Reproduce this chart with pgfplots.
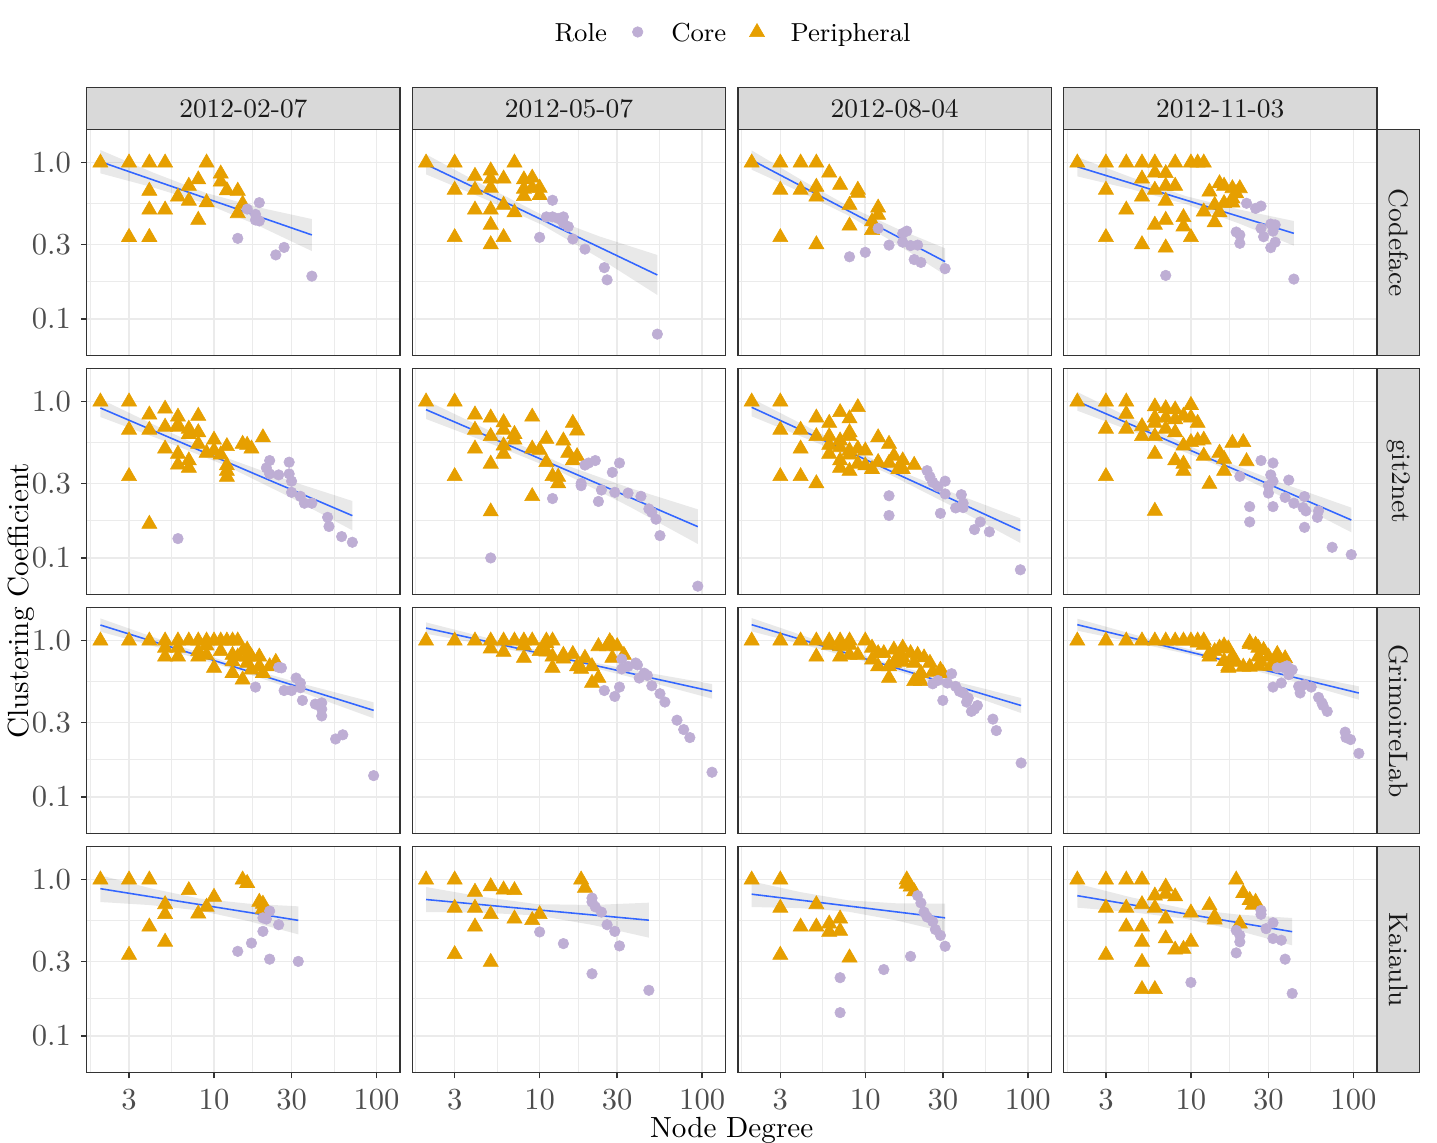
\documentclass[border=0pt]{standalone}
\usepackage{pgfplots}
\pgfplotsset{compat=1.18}
\definecolor{corecol}{HTML}{BEAED4}
\definecolor{pericol}{HTML}{E69F00}
\definecolor{fitcol}{HTML}{3366FF}
\definecolor{gridcol}{HTML}{EBEBEB}
\definecolor{bordercol}{HTML}{333333}
\definecolor{stripcol}{HTML}{D9D9D9}
\definecolor{striptext}{HTML}{1A1A1A}
\definecolor{labcol}{HTML}{4D4D4D}
\pgfplotsset{
  ptcore/.style={only marks, mark=*, mark size=1.85pt, color=corecol, mark options={line width=0.2pt}, forget plot},
  ptperi/.style={only marks, mark=triangle*, mark size=3.05pt, color=pericol, mark options={line width=0.2pt}, forget plot},
  fitline/.style={color=fitcol, line width=0.55pt, no marks, forget plot},
  seband/.style={draw=none, fill=black, fill opacity=0.085, no marks, forget plot},
}
\begin{document}
\begin{tikzpicture}
\path[use as bounding box] (0,0) rectangle (502.95pt,399.7pt);

% ---------------- Legend (own axis in pixel units) ----------------
\begin{axis}[at={(0pt,0pt)}, anchor=south west, scale only axis, width=502.95pt, height=399.7pt,
  xmin=0, xmax=1437, ymin=0, ymax=1142, hide axis, clip=false]
\addplot[ptcore] coordinates {(637.7,1110)};
\addplot[ptperi] coordinates {(757,1109.7)};
\node[anchor=base west, inner sep=0pt, font=\fontsize{9.1}{11}\selectfont] at (axis cs:554,1100.3) {Role};
\node[anchor=base west, inner sep=0pt, font=\fontsize{9.1}{11}\selectfont] at (axis cs:670.7,1100.3) {Core};
\node[anchor=base west, inner sep=0pt, font=\fontsize{9.1}{11}\selectfont] at (axis cs:790,1100.3) {Peripheral};
\end{axis}

% ---------------- Row 1: Codeface ----------------
\begin{axis}[at={(30.35pt,275.2pt)}, anchor=south west, scale only axis, width=109.66pt, height=79.1pt,
  xmode=log, ymode=log, xmin=1.647, xmax=139.5, ymin=0.0582, ymax=1.626,
  xtick={3,10,30,100}, ytick={0.1,0.3,1}, minor xtick={1.732,5.477,17.32,54.77}, minor ytick={0.1732,0.5477},
  grid=both, major grid style={draw=gridcol, line width=0.55pt}, minor grid style={draw=gridcol, line width=0.35pt},
  axis line style={draw=bordercol, line width=0.5pt}, tick align=outside, major tick length=2pt, minor tick length=0pt,
  xtick pos=bottom, ytick pos=left, ticklabel style={font=\fontsize{10.7}{12.8}\selectfont, text=labcol},
  xticklabels={}, xtick style={draw=none}, yticklabels={0.1,0.3,1.0}, ytick style={draw=bordercol, line width=0.5pt}]
\addplot[seband] coordinates {(2,1.205) (4.23,0.864) (8.94,0.640) (18.91,0.517) (40,0.436) (40,0.272) (18.91,0.394) (8.94,0.547) (4.23,0.694) (2,0.855)};
\addplot[ptperi] coordinates {(2,1) (3,1) (4,1) (5,1) (9,1) (11,0.85) (11,0.755) (8,0.78) (7,0.71) (4,0.66) (6,0.606) (7,0.57) (9,0.557) (12,0.665) (14,0.66) (15,0.545) (14,0.474) (4,0.5) (5,0.5) (8,0.43) (3,0.334) (4,0.334)};
\addplot[ptcore] coordinates {(19,0.555) (16,0.505) (18,0.467) (19,0.424) (18,0.43) (14,0.328) (27,0.287) (24,0.257) (40,0.188)};
\addplot[fitline] coordinates {(2,1.015) (40,0.345)};
\end{axis}

\begin{axis}[at={(144.32pt,275.2pt)}, anchor=south west, scale only axis, width=109.66pt, height=79.1pt,
  xmode=log, ymode=log, xmin=1.647, xmax=139.5, ymin=0.0582, ymax=1.626,
  xtick={3,10,30,100}, ytick={0.1,0.3,1}, minor xtick={1.732,5.477,17.32,54.77}, minor ytick={0.1732,0.5477},
  grid=both, major grid style={draw=gridcol, line width=0.55pt}, minor grid style={draw=gridcol, line width=0.35pt},
  axis line style={draw=bordercol, line width=0.5pt}, tick align=outside, major tick length=2pt, minor tick length=0pt,
  xtick pos=bottom, ytick pos=left, ticklabel style={font=\fontsize{10.7}{12.8}\selectfont, text=labcol},
  xticklabels={}, xtick style={draw=none}, yticklabels={}, ytick style={draw=none}]
\addplot[seband] coordinates {(2,1.131) (4.54,0.7155) (10.30,0.4649) (23.36,0.3374) (53,0.2567) (53,0.1424) (23.36,0.2447) (10.30,0.4012) (4.54,0.5890) (2,0.8421)};
\addplot[ptperi] coordinates {(2,1) (3,1) (7,1) (4,0.822) (5,0.89) (5,0.79) (5,0.69) (6,0.79) (8,0.78) (9,0.80) (9,0.69) (10,0.69) (8,0.68) (8,0.61) (10,0.62) (3,0.67) (4,0.67) (4,0.5) (5,0.5) (6,0.536) (7,0.48) (5,0.40) (3,0.333) (6,0.333) (5,0.30)};
\addplot[ptcore] coordinates {(12,0.575) (11,0.45) (12,0.45) (13,0.44) (14,0.45) (14,0.41) (15,0.39) (16,0.325) (10,0.333) (19,0.28) (25,0.213) (26,0.178) (53,0.08)};
\addplot[fitline] coordinates {(2,0.9757) (53,0.1912)};
\end{axis}

\begin{axis}[at={(258.29pt,275.2pt)}, anchor=south west, scale only axis, width=109.66pt, height=79.1pt,
  xmode=log, ymode=log, xmin=1.647, xmax=139.5, ymin=0.0582, ymax=1.626,
  xtick={3,10,30,100}, ytick={0.1,0.3,1}, minor xtick={1.732,5.477,17.32,54.77}, minor ytick={0.1732,0.5477},
  grid=both, major grid style={draw=gridcol, line width=0.55pt}, minor grid style={draw=gridcol, line width=0.35pt},
  axis line style={draw=bordercol, line width=0.5pt}, tick align=outside, major tick length=2pt, minor tick length=0pt,
  xtick pos=bottom, ytick pos=left, ticklabel style={font=\fontsize{10.7}{12.8}\selectfont, text=labcol},
  xticklabels={}, xtick style={draw=none}, yticklabels={}, ytick style={draw=none}]
\addplot[seband] coordinates {(2,1.199) (3.97,0.7848) (7.87,0.5269) (15.62,0.3795) (31,0.2831) (31,0.1912) (15.62,0.3016) (7.87,0.4592) (3.97,0.6519) (2,0.902)};
\addplot[ptperi] coordinates {(2,1) (3,1) (4,1) (5,1) (6,0.863) (7,0.72) (9,0.67) (9,0.64) (5,0.70) (5,0.606) (3,0.67) (4,0.67) (8,0.536) (12,0.515) (12,0.463) (11,0.42) (11,0.37) (8,0.395) (3,0.333) (5,0.30)};
\addplot[ptcore] coordinates {(12,0.38) (18,0.365) (17,0.353) (17,0.31) (19,0.295) (21,0.297) (14,0.297) (10,0.267) (8,0.25) (20,0.24) (22,0.23) (31,0.21)};
\addplot[fitline] coordinates {(2,1.040) (31,0.2327)};
\end{axis}

\begin{axis}[at={(372.26pt,275.2pt)}, anchor=south west, scale only axis, width=109.66pt, height=79.1pt,
  xmode=log, ymode=log, xmin=1.647, xmax=139.5, ymin=0.0582, ymax=1.626,
  xtick={3,10,30,100}, ytick={0.1,0.3,1}, minor xtick={1.732,5.477,17.32,54.77}, minor ytick={0.1732,0.5477},
  grid=both, major grid style={draw=gridcol, line width=0.55pt}, minor grid style={draw=gridcol, line width=0.35pt},
  axis line style={draw=bordercol, line width=0.5pt}, tick align=outside, major tick length=2pt, minor tick length=0pt,
  xtick pos=bottom, ytick pos=left, ticklabel style={font=\fontsize{10.7}{12.8}\selectfont, text=labcol},
  xticklabels={}, xtick style={draw=none}, yticklabels={}, ytick style={draw=none}]
\addplot[seband] coordinates {(2,1.087) (4.31,0.805) (9.27,0.612) (19.97,0.501) (43,0.4235) (43,0.2945) (19.97,0.4068) (9.27,0.544) (4.31,0.6759) (2,0.8177)};
\addplot[ptperi] coordinates {(2,1) (3,1) (4,1) (5,1) (6,1) (8,1) (10,1) (11,1) (12,1) (6,0.863) (7,0.855) (5,0.79) (7,0.71) (8,0.71) (6,0.67) (3,0.67) (5,0.606) (7,0.57) (4,0.5) (6,0.4) (7,0.43) (9,0.447) (9,0.39) (10,0.333) (3,0.333) (5,0.30) (7,0.286) (13,0.652) (15,0.737) (16,0.71) (18,0.685) (20,0.685) (19,0.636) (18,0.59) (14,0.536) (16,0.55) (18,0.555) (12,0.486) (15,0.48) (14,0.415)};
\addplot[ptcore] coordinates {(22,0.55) (25,0.51) (27,0.528) (31,0.405) (33,0.40) (27,0.38) (32,0.365) (28,0.336) (19,0.36) (20,0.345) (20,0.305) (33,0.31) (31,0.286) (7,0.19) (43,0.18)};
\addplot[fitline] coordinates {(2,0.9428) (43,0.3532)};
\end{axis}

% ---------------- Row 2: git2net ----------------
\begin{axis}[at={(30.35pt,191.56pt)}, anchor=south west, scale only axis, width=109.66pt, height=79.1pt,
  xmode=log, ymode=log, xmin=1.647, xmax=139.5, ymin=0.0582, ymax=1.626,
  xtick={3,10,30,100}, ytick={0.1,0.3,1}, minor xtick={1.732,5.477,17.32,54.77}, minor ytick={0.1732,0.5477},
  grid=both, major grid style={draw=gridcol, line width=0.55pt}, minor grid style={draw=gridcol, line width=0.35pt},
  axis line style={draw=bordercol, line width=0.5pt}, tick align=outside, major tick length=2pt, minor tick length=0pt,
  xtick pos=bottom, ytick pos=left, ticklabel style={font=\fontsize{10.7}{12.8}\selectfont, text=labcol},
  xticklabels={}, xtick style={draw=none}, yticklabels={0.1,0.3,1.0}, ytick style={draw=bordercol, line width=0.5pt}]
\addplot[seband] coordinates {(2,1.040) (4.88,0.6661) (11.92,0.4372) (29.09,0.3124) (71,0.2315) (71,0.1503) (29.09,0.2462) (11.92,0.3886) (4.88,0.5637) (2,0.7979)};
\addplot[ptperi] coordinates {(2,1) (3,1) (5,0.90) (4,0.826) (6,0.80) (8,0.81) (6,0.71) (5,0.69) (3,0.66) (4,0.66) (7,0.67) (7,0.62) (8,0.636) (6,0.69) (10,0.57) (8,0.536) (5,0.50) (6,0.463) (7,0.42) (6,0.395) (7,0.377) (9,0.47) (10,0.486) (11,0.458) (12,0.518) (12,0.39) (12,0.36) (12,0.33) (15,0.536) (16,0.528) (17,0.50) (20,0.59) (3,0.333) (4,0.165)};
\addplot[ptcore] coordinates {(6,0.133) (22,0.42) (21,0.377) (22,0.345) (25,0.34) (29,0.41) (29,0.345) (30,0.31) (30,0.263) (34,0.248) (36,0.224) (40,0.224) (50,0.182) (51,0.159) (61,0.137) (71,0.126)};
\addplot[fitline] coordinates {(2,0.911) (71,0.1866)};
\end{axis}

\begin{axis}[at={(144.32pt,191.56pt)}, anchor=south west, scale only axis, width=109.66pt, height=79.1pt,
  xmode=log, ymode=log, xmin=1.647, xmax=139.5, ymin=0.0582, ymax=1.626,
  xtick={3,10,30,100}, ytick={0.1,0.3,1}, minor xtick={1.732,5.477,17.32,54.77}, minor ytick={0.1732,0.5477},
  grid=both, major grid style={draw=gridcol, line width=0.55pt}, minor grid style={draw=gridcol, line width=0.35pt},
  axis line style={draw=bordercol, line width=0.5pt}, tick align=outside, major tick length=2pt, minor tick length=0pt,
  xtick pos=bottom, ytick pos=left, ticklabel style={font=\fontsize{10.7}{12.8}\selectfont, text=labcol},
  xticklabels={}, xtick style={draw=none}, yticklabels={}, ytick style={draw=none}]
\addplot[seband] coordinates {(2,1.020) (5.24,0.6311) (13.71,0.4003) (35.90,0.2805) (94,0.2048) (94,0.1229) (35.90,0.2124) (13.71,0.3523) (5.24,0.5289) (2,0.7747)};
\addplot[ptperi] coordinates {(2,1) (3,1) (4,0.826) (5,0.79) (9,0.80) (6,0.737) (6,0.66) (4,0.66) (5,0.60) (7,0.62) (7,0.57) (6,0.523) (6,0.463) (4,0.50) (5,0.40) (3,0.333) (9,0.50) (10,0.49) (11,0.577) (14,0.563) (16,0.73) (17,0.652) (15,0.47) (17,0.447) (16,0.42) (11,0.41) (12,0.333) (13,0.33) (13,0.30) (9,0.248) (5,0.198)};
\addplot[ptcore] coordinates {(5,0.10) (12,0.24) (18,0.30) (18,0.29) (19,0.393) (20,0.405) (22,0.42) (23,0.23) (24,0.272) (28,0.353) (31,0.405) (29,0.263) (35,0.26) (42,0.248) (47,0.206) (49,0.196) (52,0.177) (55,0.139) (94,0.066)};
\addplot[fitline] coordinates {(2,0.8889) (94,0.1586)};
\end{axis}

\begin{axis}[at={(258.29pt,191.56pt)}, anchor=south west, scale only axis, width=109.66pt, height=79.1pt,
  xmode=log, ymode=log, xmin=1.647, xmax=139.5, ymin=0.0582, ymax=1.626,
  xtick={3,10,30,100}, ytick={0.1,0.3,1}, minor xtick={1.732,5.477,17.32,54.77}, minor ytick={0.1732,0.5477},
  grid=both, major grid style={draw=gridcol, line width=0.55pt}, minor grid style={draw=gridcol, line width=0.35pt},
  axis line style={draw=bordercol, line width=0.5pt}, tick align=outside, major tick length=2pt, minor tick length=0pt,
  xtick pos=bottom, ytick pos=left, ticklabel style={font=\fontsize{10.7}{12.8}\selectfont, text=labcol},
  xticklabels={}, xtick style={draw=none}, yticklabels={}, ytick style={draw=none}]
\addplot[seband] coordinates {(2,1.050) (5.18,0.6335) (13.42,0.3915) (34.74,0.2608) (90,0.1793) (90,0.1247) (34.74,0.2127) (13.42,0.3514) (5.18,0.5387) (2,0.8057)};
\addplot[ptperi] coordinates {(2,1) (3,1) (3,0.66) (4,0.66) (4,0.5) (3,0.333) (4,0.333) (5,0.79) (5,0.60) (5,0.30) (6,0.73) (6,0.60) (6,0.528) (6,0.463) (7,0.855) (7,0.563) (7,0.51) (7,0.42) (7,0.377) (8,0.78) (8,0.636) (8,0.60) (8,0.486) (8,0.458) (8,0.36) (9,0.92) (9,0.50) (9,0.40) (10,0.486) (10,0.39) (11,0.37) (12,0.59) (12,0.41) (14,0.536) (14,0.405) (15,0.45) (16,0.37) (17,0.42) (17,0.37) (20,0.393)};
\addplot[ptcore] coordinates {(24,0.362) (25,0.331) (26,0.305) (28,0.286) (31,0.31) (31,0.257) (39,0.254) (40,0.224) (36,0.209) (40,0.21) (29,0.193) (14,0.25) (14,0.187) (51,0.17) (47,0.152) (58,0.147) (90,0.084)};
\addplot[fitline] coordinates {(2,0.920) (90,0.1496)};
\end{axis}

\begin{axis}[at={(372.26pt,191.56pt)}, anchor=south west, scale only axis, width=109.66pt, height=79.1pt,
  xmode=log, ymode=log, xmin=1.647, xmax=139.5, ymin=0.0582, ymax=1.626,
  xtick={3,10,30,100}, ytick={0.1,0.3,1}, minor xtick={1.732,5.477,17.32,54.77}, minor ytick={0.1732,0.5477},
  grid=both, major grid style={draw=gridcol, line width=0.55pt}, minor grid style={draw=gridcol, line width=0.35pt},
  axis line style={draw=bordercol, line width=0.5pt}, tick align=outside, major tick length=2pt, minor tick length=0pt,
  xtick pos=bottom, ytick pos=left, ticklabel style={font=\fontsize{10.7}{12.8}\selectfont, text=labcol},
  xticklabels={}, xtick style={draw=none}, yticklabels={}, ytick style={draw=none}]
\addplot[seband] coordinates {(2,1.153) (5.28,0.704) (13.93,0.4405) (36.76,0.2995) (97,0.2099) (97,0.146) (36.76,0.2451) (13.93,0.3993) (5.28,0.5986) (2,0.8758)};
\addplot[ptperi] coordinates {(2,1) (3,1) (4,1) (4,0.835) (4,0.67) (3,0.67) (3,0.333) (5,0.695) (5,0.60) (6,0.93) (6,0.79) (6,0.73) (6,0.60) (6,0.463) (6,0.20) (7,0.905) (7,0.79) (7,0.67) (8,0.89) (8,0.77) (8,0.636) (8,0.42) (9,0.81) (9,0.523) (9,0.40) (9,0.36) (10,0.95) (10,0.79) (10,0.55) (11,0.73) (11,0.563) (12,0.57) (12,0.45) (13,0.297) (15,0.47) (16,0.43) (16,0.36) (18,0.544) (21,0.55) (22,0.415)};
\addplot[ptcore] coordinates {(27,0.42) (32,0.405) (20,0.333) (31,0.34) (32,0.31) (30,0.29) (30,0.26) (40,0.315) (38,0.244) (43,0.224) (50,0.247) (49,0.21) (51,0.20) (61,0.20) (60,0.182) (50,0.157) (32,0.213) (23,0.213) (23,0.17) (74,0.117) (97,0.105)};
\addplot[fitline] coordinates {(2,1.005) (97,0.175)};
\end{axis}

% ---------------- Row 3: GrimoireLab ----------------
\begin{axis}[at={(30.35pt,107.9pt)}, anchor=south west, scale only axis, width=109.66pt, height=79.1pt,
  xmode=log, ymode=log, xmin=1.647, xmax=139.5, ymin=0.0582, ymax=1.626,
  xtick={3,10,30,100}, ytick={0.1,0.3,1}, minor xtick={1.732,5.477,17.32,54.77}, minor ytick={0.1732,0.5477},
  grid=both, major grid style={draw=gridcol, line width=0.55pt}, minor grid style={draw=gridcol, line width=0.35pt},
  axis line style={draw=bordercol, line width=0.5pt}, tick align=outside, major tick length=2pt, minor tick length=0pt,
  xtick pos=bottom, ytick pos=left, ticklabel style={font=\fontsize{10.7}{12.8}\selectfont, text=labcol},
  xticklabels={}, xtick style={draw=none}, yticklabels={0.1,0.3,1.0}, ytick style={draw=bordercol, line width=0.5pt}]
\addplot[seband] coordinates {(2,1.389) (5.26,0.974) (13.86,0.6954) (36.48,0.5241) (96,0.4032) (96,0.3186) (36.48,0.4595) (13.86,0.6492) (5.26,0.8686) (2,1.142)};
\addplot[ptperi] coordinates {(2,1) (3,1) (4,1) (5,1) (6,1) (7,1) (8,1) (9,1) (10,1) (11,1) (12,1) (13,1) (14,1) (5,0.90) (5,0.79) (6,0.90) (6,0.79) (8,0.855) (8,0.79) (9,0.81) (9,0.93) (10,0.67) (11,0.855) (13,0.81) (13,0.737) (13,0.62) (14,0.79) (15,0.855) (15,0.563) (16,0.875) (16,0.79) (16,0.72) (17,0.652) (17,0.79) (19,0.79) (19,0.685) (20,0.62) (24,0.73) (22,0.685)};
\addplot[ptcore] coordinates {(18,0.505) (25,0.675) (26,0.67) (32,0.577) (34,0.536) (34,0.50) (27,0.48) (30,0.48) (35,0.415) (42,0.393) (46,0.40) (46,0.365) (46,0.33) (56,0.235) (62,0.25) (96,0.137)};
\addplot[fitline] coordinates {(2,1.26) (96,0.3584)};
\end{axis}

\begin{axis}[at={(144.32pt,107.9pt)}, anchor=south west, scale only axis, width=109.66pt, height=79.1pt,
  xmode=log, ymode=log, xmin=1.647, xmax=139.5, ymin=0.0582, ymax=1.626,
  xtick={3,10,30,100}, ytick={0.1,0.3,1}, minor xtick={1.732,5.477,17.32,54.77}, minor ytick={0.1732,0.5477},
  grid=both, major grid style={draw=gridcol, line width=0.55pt}, minor grid style={draw=gridcol, line width=0.35pt},
  axis line style={draw=bordercol, line width=0.5pt}, tick align=outside, major tick length=2pt, minor tick length=0pt,
  xtick pos=bottom, ytick pos=left, ticklabel style={font=\fontsize{10.7}{12.8}\selectfont, text=labcol},
  xticklabels={}, xtick style={draw=none}, yticklabels={}, ytick style={draw=none}]
\addplot[seband] coordinates {(2,1.310) (5.51,1.002) (15.17,0.7786) (41.76,0.6356) (115,0.5282) (115,0.4256) (41.76,0.5638) (15.17,0.734) (5.51,0.9089) (2,1.109)};
\addplot[ptperi] coordinates {(2,1) (3,1) (4,1) (5,1) (6,1) (7,1) (8,1) (9,1) (11,1) (12,1) (5,0.89) (6,0.846) (8,0.93) (8,0.775) (10,0.855) (11,0.85) (11,0.96) (12,0.79) (12,0.67) (14,0.81) (14,0.767) (16,0.82) (17,0.685) (18,0.66) (19,0.775) (21,0.685) (23,0.577) (21,0.536) (23,0.92) (27,0.99) (26,0.92) (28,0.94) (30,0.92) (28,0.775) (33,0.81)};
\addplot[ptcore] coordinates {(32,0.763) (32,0.66) (35,0.685) (39,0.72) (40,0.70) (41,0.577) (44,0.62) (46,0.60) (49,0.515) (55,0.458) (59,0.405) (25,0.48) (29,0.44) (31,0.505) (70,0.31) (77,0.27) (84,0.24) (115,0.144)};
\addplot[fitline] coordinates {(2,1.205) (115,0.4742)};
\end{axis}

\begin{axis}[at={(258.29pt,107.9pt)}, anchor=south west, scale only axis, width=109.66pt, height=79.1pt,
  xmode=log, ymode=log, xmin=1.647, xmax=139.5, ymin=0.0582, ymax=1.626,
  xtick={3,10,30,100}, ytick={0.1,0.3,1}, minor xtick={1.732,5.477,17.32,54.77}, minor ytick={0.1732,0.5477},
  grid=both, major grid style={draw=gridcol, line width=0.55pt}, minor grid style={draw=gridcol, line width=0.35pt},
  axis line style={draw=bordercol, line width=0.5pt}, tick align=outside, major tick length=2pt, minor tick length=0pt,
  xtick pos=bottom, ytick pos=left, ticklabel style={font=\fontsize{10.7}{12.8}\selectfont, text=labcol},
  xticklabels={}, xtick style={draw=none}, yticklabels={}, ytick style={draw=none}]
\addplot[seband] coordinates {(2,1.396) (5.19,0.9956) (13.49,0.7223) (35.04,0.5518) (91,0.4298) (91,0.3446) (35.04,0.4866) (13.49,0.6744) (5.19,0.8875) (2,1.147)};
\addplot[ptperi] coordinates {(2,1) (3,1) (4,1) (5,1) (6,1) (7,1) (8,1) (10,1) (5,0.79) (6,0.94) (7,0.92) (7,0.79) (8,0.94) (8,0.81) (9,0.81) (11,0.90) (11,0.755) (12,0.83) (12,0.685) (13,0.83) (14,0.577) (14,0.685) (15,0.875) (15,0.72) (16,0.80) (17,0.90) (17,0.78) (17,0.73) (19,0.83) (20,0.72) (20,0.55) (21,0.81) (22,0.62) (22,0.55) (23,0.78) (25,0.72) (26,0.63) (29,0.65) (30,0.62)};
\addplot[ptcore] coordinates {(26,0.53) (28,0.557) (32,0.536) (34,0.615) (36,0.51) (38,0.474) (40,0.463) (43,0.43) (42,0.405) (49,0.385) (47,0.365) (45,0.353) (30,0.415) (61,0.315) (64,0.266) (91,0.165)};
\addplot[fitline] coordinates {(2,1.266) (91,0.3848)};
\end{axis}

\begin{axis}[at={(372.26pt,107.9pt)}, anchor=south west, scale only axis, width=109.66pt, height=79.1pt,
  xmode=log, ymode=log, xmin=1.647, xmax=139.5, ymin=0.0582, ymax=1.626,
  xtick={3,10,30,100}, ytick={0.1,0.3,1}, minor xtick={1.732,5.477,17.32,54.77}, minor ytick={0.1732,0.5477},
  grid=both, major grid style={draw=gridcol, line width=0.55pt}, minor grid style={draw=gridcol, line width=0.35pt},
  axis line style={draw=bordercol, line width=0.5pt}, tick align=outside, major tick length=2pt, minor tick length=0pt,
  xtick pos=bottom, ytick pos=left, ticklabel style={font=\fontsize{10.7}{12.8}\selectfont, text=labcol},
  xticklabels={}, xtick style={draw=none}, yticklabels={}, ytick style={draw=none}]
\addplot[seband] coordinates {(2,1.383) (5.42,1.036) (14.70,0.7881) (39.84,0.629) (108,0.5104) (108,0.4194) (39.84,0.5629) (14.70,0.743) (5.42,0.9352) (2,1.159)};
\addplot[ptperi] coordinates {(2,1) (3,1) (4,1) (5,1) (6,1) (7,1) (8,1) (9,1) (10,1) (11,1) (12,1) (11,0.97) (12,0.94) (13,0.83) (13,0.79) (14,0.855) (15,0.90) (16,0.93) (17,0.89) (16,0.74) (17,0.685) (17,0.67) (18,0.79) (19,0.73) (23,0.975) (23,0.95) (25,0.94) (26,0.90) (28,0.87) (26,0.79) (21,0.68) (23,0.68) (26,0.69) (27,0.73) (30,0.79) (34,0.82) (31,0.69) (38,0.77) (34,0.72)};
\addplot[ptcore] coordinates {(34,0.67) (37,0.675) (39,0.69) (42,0.652) (40,0.606) (36,0.536) (32,0.505) (46,0.51) (50,0.523) (55,0.505) (47,0.463) (61,0.434) (64,0.40) (65,0.385) (69,0.353) (89,0.26) (90,0.24) (96,0.233) (108,0.19)};
\addplot[fitline] coordinates {(2,1.266) (108,0.4627)};
\end{axis}

% ---------------- Row 4: Kaiaulu ----------------
\begin{axis}[at={(30.35pt,24.26pt)}, anchor=south west, scale only axis, width=109.66pt, height=79.1pt,
  xmode=log, ymode=log, xmin=1.647, xmax=139.5, ymin=0.0582, ymax=1.626,
  xtick={3,10,30,100}, ytick={0.1,0.3,1}, minor xtick={1.732,5.477,17.32,54.77}, minor ytick={0.1732,0.5477},
  grid=both, major grid style={draw=gridcol, line width=0.55pt}, minor grid style={draw=gridcol, line width=0.35pt},
  axis line style={draw=bordercol, line width=0.5pt}, tick align=outside, major tick length=2pt, minor tick length=0pt,
  xtick pos=bottom, ytick pos=left, ticklabel style={font=\fontsize{10.7}{12.8}\selectfont, text=labcol},
  xticklabel style={inner sep=0pt, yshift=-3.6pt},
  xticklabels={3,10,30,100}, xtick style={draw=bordercol, line width=0.5pt}, yticklabels={0.1,0.3,1.0}, ytick style={draw=bordercol, line width=0.5pt}]
\addplot[seband] coordinates {(2,1.066) (4.03,0.8830) (8.12,0.7577) (16.37,0.7021) (33,0.6752) (33,0.447) (16.37,0.5428) (8.12,0.635) (4.03,0.688) (2,0.7197)};
\addplot[ptperi] coordinates {(2,1) (3,1) (4,1) (7,0.855) (10,0.775) (15,1) (16,0.95) (5,0.695) (5,0.60) (4,0.50) (5,0.40) (3,0.33) (8,0.606) (9,0.67) (19,0.72) (20,0.70) (20,0.65)};
\addplot[ptcore] coordinates {(22,0.63) (20,0.57) (21,0.56) (25,0.515) (20,0.467) (17,0.393) (14,0.348) (22,0.31) (33,0.30)};
\addplot[fitline] coordinates {(2,0.8758) (33,0.5494)};
\end{axis}

\begin{axis}[at={(144.32pt,24.26pt)}, anchor=south west, scale only axis, width=109.66pt, height=79.1pt,
  xmode=log, ymode=log, xmin=1.647, xmax=139.5, ymin=0.0582, ymax=1.626,
  xtick={3,10,30,100}, ytick={0.1,0.3,1}, minor xtick={1.732,5.477,17.32,54.77}, minor ytick={0.1732,0.5477},
  grid=both, major grid style={draw=gridcol, line width=0.55pt}, minor grid style={draw=gridcol, line width=0.35pt},
  axis line style={draw=bordercol, line width=0.5pt}, tick align=outside, major tick length=2pt, minor tick length=0pt,
  xtick pos=bottom, ytick pos=left, ticklabel style={font=\fontsize{10.7}{12.8}\selectfont, text=labcol},
  xticklabel style={inner sep=0pt, yshift=-3.6pt},
  xticklabels={3,10,30,100}, xtick style={draw=bordercol, line width=0.5pt}, yticklabels={}, ytick style={draw=none}]
\addplot[seband] coordinates {(2,0.8976) (4.40,0.7777) (9.70,0.6971) (21.35,0.6889) (47,0.7126) (47,0.4256) (21.35,0.5126) (9.70,0.5899) (4.40,0.6157) (2,0.6211)};
\addplot[ptperi] coordinates {(2,1) (3,1) (4,0.835) (5,0.905) (6,0.863) (7,0.855) (18,1) (19,0.885) (3,0.66) (4,0.66) (5,0.60) (7,0.563) (9,0.55) (10,0.60) (4,0.50) (3,0.333) (5,0.297)};
\addplot[ptcore] coordinates {(21,0.763) (21,0.72) (22,0.67) (24,0.62) (26,0.515) (29,0.467) (31,0.377) (10,0.463) (14,0.39) (21,0.25) (47,0.196)};
\addplot[fitline] coordinates {(2,0.7467) (47,0.5507)};
\end{axis}

\begin{axis}[at={(258.29pt,24.26pt)}, anchor=south west, scale only axis, width=109.66pt, height=79.1pt,
  xmode=log, ymode=log, xmin=1.647, xmax=139.5, ymin=0.0582, ymax=1.626,
  xtick={3,10,30,100}, ytick={0.1,0.3,1}, minor xtick={1.732,5.477,17.32,54.77}, minor ytick={0.1732,0.5477},
  grid=both, major grid style={draw=gridcol, line width=0.55pt}, minor grid style={draw=gridcol, line width=0.35pt},
  axis line style={draw=bordercol, line width=0.5pt}, tick align=outside, major tick length=2pt, minor tick length=0pt,
  xtick pos=bottom, ytick pos=left, ticklabel style={font=\fontsize{10.7}{12.8}\selectfont, text=labcol},
  xticklabel style={inner sep=0pt, yshift=-3.6pt},
  xticklabels={3,10,30,100}, xtick style={draw=bordercol, line width=0.5pt}, yticklabels={}, ytick style={draw=none}]
\addplot[seband] coordinates {(2,0.9758) (3.97,0.8337) (7.87,0.7376) (15.62,0.7059) (31,0.7022) (31,0.4627) (15.62,0.5479) (7.87,0.6242) (3.97,0.6574) (2,0.6686)};
\addplot[ptperi] coordinates {(2,1) (3,1) (3,0.66) (3,0.33) (5,0.695) (4,0.50) (5,0.50) (6,0.523) (6,0.463) (7,0.563) (7,0.47) (8,0.317) (18,1) (18,0.94) (19,0.90) (20,0.84)};
\addplot[ptcore] coordinates {(21,0.79) (22,0.71) (23,0.62) (24,0.577) (26,0.54) (27,0.48) (29,0.44) (31,0.375) (19,0.323) (13,0.266) (7,0.236) (7,0.141)};
\addplot[fitline] coordinates {(2,0.8077) (31,0.570)};
\end{axis}

\begin{axis}[at={(372.26pt,24.26pt)}, anchor=south west, scale only axis, width=109.66pt, height=79.1pt,
  xmode=log, ymode=log, xmin=1.647, xmax=139.5, ymin=0.0582, ymax=1.626,
  xtick={3,10,30,100}, ytick={0.1,0.3,1}, minor xtick={1.732,5.477,17.32,54.77}, minor ytick={0.1732,0.5477},
  grid=both, major grid style={draw=gridcol, line width=0.55pt}, minor grid style={draw=gridcol, line width=0.35pt},
  axis line style={draw=bordercol, line width=0.5pt}, tick align=outside, major tick length=2pt, minor tick length=0pt,
  xtick pos=bottom, ytick pos=left, ticklabel style={font=\fontsize{10.7}{12.8}\selectfont, text=labcol},
  xticklabel style={inner sep=0pt, yshift=-3.6pt},
  xticklabels={3,10,30,100}, xtick style={draw=bordercol, line width=0.5pt}, yticklabels={}, ytick style={draw=none}]
\addplot[seband] coordinates {(2,0.9428) (4.28,0.7717) (9.17,0.6524) (19.62,0.5981) (42,0.5686) (42,0.3801) (19.62,0.4711) (9.17,0.563) (4.28,0.6205) (2,0.6621)};
\addplot[ptperi] coordinates {(2,1) (3,1) (4,1) (5,1) (7,0.90) (6,0.79) (7,0.81) (8,0.78) (3,0.66) (4,0.66) (5,0.695) (6,0.66) (7,0.563) (10,0.615) (13,0.685) (14,0.58) (14,0.555) (19,1) (21,0.82) (23,0.74) (25,0.72) (24,0.69) (20,0.523) (4,0.50) (5,0.50) (7,0.42) (5,0.40) (8,0.356) (9,0.36) (10,0.40) (3,0.33) (5,0.297) (5,0.199) (6,0.199)};
\addplot[ptcore] coordinates {(27,0.636) (27,0.60) (32,0.53) (29,0.486) (19,0.474) (20,0.44) (20,0.40) (32,0.42) (36,0.41) (19,0.34) (38,0.31) (10,0.22) (42,0.187)};
\addplot[fitline] coordinates {(2,0.79) (42,0.4649)};
\end{axis}

% ---------------- Strips ----------------
\begin{scope}[every node/.style={font=\fontsize{9.35}{11}\selectfont, text=striptext, inner sep=0pt}]
\draw[fill=stripcol, draw=bordercol, line width=0.5pt] (30.35pt,354.3pt) rectangle (140.01pt,369.1pt);
\node at (85.18pt,361.7pt) {2012-02-07};
\draw[fill=stripcol, draw=bordercol, line width=0.5pt] (144.32pt,354.3pt) rectangle (253.98pt,369.1pt);
\node at (199.15pt,361.7pt) {2012-05-07};
\draw[fill=stripcol, draw=bordercol, line width=0.5pt] (258.29pt,354.3pt) rectangle (367.95pt,369.1pt);
\node at (313.12pt,361.7pt) {2012-08-04};
\draw[fill=stripcol, draw=bordercol, line width=0.5pt] (372.26pt,354.3pt) rectangle (481.92pt,369.1pt);
\node at (427.09pt,361.7pt) {2012-11-03};
\draw[fill=stripcol, draw=bordercol, line width=0.5pt] (481.92pt,275.2pt) rectangle (496.77pt,354.3pt);
\node[rotate=-90] at (489.35pt,314.75pt) {Codeface};
\draw[fill=stripcol, draw=bordercol, line width=0.5pt] (481.92pt,191.56pt) rectangle (496.77pt,270.66pt);
\node[rotate=-90] at (489.35pt,231.11pt) {git2net};
\draw[fill=stripcol, draw=bordercol, line width=0.5pt] (481.92pt,107.9pt) rectangle (496.77pt,187.0pt);
\node[rotate=-90] at (489.35pt,147.45pt) {GrimoireLab};
\draw[fill=stripcol, draw=bordercol, line width=0.5pt] (481.92pt,24.26pt) rectangle (496.77pt,103.36pt);
\node[rotate=-90] at (489.35pt,63.81pt) {Kaiaulu};
\end{scope}

% ---------------- Axis titles ----------------
\node[anchor=base, font=\fontsize{10.2}{12}\selectfont, inner sep=0pt] at (256.1pt,1.6pt) {Node Degree};
\node[anchor=base, rotate=90, font=\fontsize{10.2}{12}\selectfont, inner sep=0pt] at (10.15pt,189.35pt) {Clustering Coefficient};
\end{tikzpicture}
\end{document}
